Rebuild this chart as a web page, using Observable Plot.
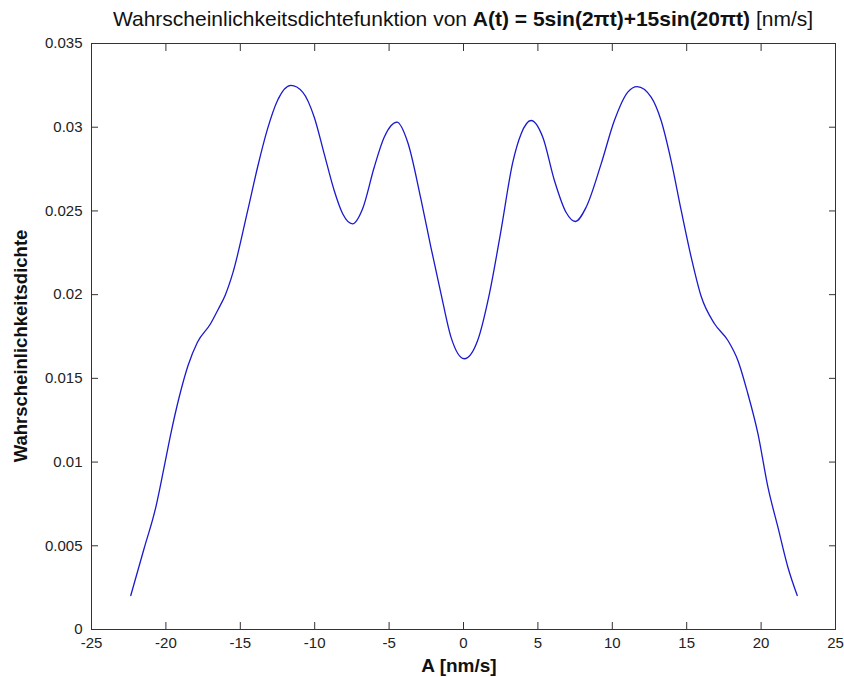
<!DOCTYPE html>
<html>
<head>
<meta charset="utf-8">
<script src="https://cdn.jsdelivr.net/npm/d3@7"></script>
<script src="https://cdn.jsdelivr.net/npm/@observablehq/plot@0.6"></script>
<style>
  html, body { margin: 0; padding: 0; background: #fff; }
  svg { display: block; }
</style>
</head>
<body>
<div id="chart"></div>
<script>
// Values
const amplitude = [-22.36, -21.47, -20.68, -20.12, -19.67, -19.11, -18.5, -17.88, -17.0, -16.5, -16.0, -15.5, -14.5, -13.84, -13.17, -12.5, -11.6, -10.81, -10.03, -9.36, -8.69, -8.12, -7.45, -6.78, -6.0, -5.33, -4.47, -3.75, -2.86, -2.19, -1.51, -0.84, 0.05, 0.95, 1.74, 2.52, 3.31, 3.87, 4.54, 5.33, 6.11, 6.89, 7.52, 8.24, 9.25, 10.14, 11.04, 11.67, 12.61, 13.28, 13.95, 14.63, 15.3, 15.97, 16.87, 17.77, 18.44, 19.11, 19.79, 20.46, 21.13, 21.8, 22.43];
const density = [0.00203, 0.00482, 0.0073, 0.0097, 0.01169, 0.01387, 0.0158, 0.01716, 0.01826, 0.0191, 0.0200, 0.02130, 0.02503, 0.02761, 0.0299, 0.0316, 0.0325, 0.0321, 0.0306, 0.02841, 0.02622, 0.02483, 0.02423, 0.02513, 0.02761, 0.0294, 0.0303, 0.0291, 0.0257, 0.02283, 0.02005, 0.01746, 0.01617, 0.01726, 0.02005, 0.02383, 0.02790, 0.0296, 0.0304, 0.0294, 0.02682, 0.02492, 0.02437, 0.02522, 0.02781, 0.0304, 0.0321, 0.03243, 0.0318, 0.0304, 0.02801, 0.02503, 0.02224, 0.0199, 0.01826, 0.01726, 0.01607, 0.01408, 0.01169, 0.0085, 0.00611, 0.00372, 0.00203];
const xTicks = [-25, -20, -15, -10, -5, 0, 5, 10, 15, 20, 25];
const xTickLabels = ["-25", "-20", "-15", "-10", "-5", "0", "5", "10", "15", "20", "25"];
const yTicks = [0, 0.005, 0.01, 0.015, 0.02, 0.025, 0.03, 0.035];
const yTickLabels = ["0", "0.005", "0.01", "0.015", "0.02", "0.025", "0.03", "0.035"];
const titleNormal = "Wahrscheinlichkeitsdichtefunktion von ";
const titleBold = "A(t) = 5sin(2πt)+15sin(20πt)";
const titleUnit = " [nm/s]";
const xLabel = "A [nm/s]";
const yLabel = "Wahrscheinlichkeitsdichte";

const data = amplitude.map((a, i) => ({a, p: density[i]}));
const font = "'Liberation Sans', Arial, Helvetica, sans-serif";
const axisColor = "#333";

const svg = Plot.plot({
  width: 844,
  height: 677,
  marginLeft: 91,
  marginRight: 9,
  marginTop: 43,
  marginBottom: 48,
  style: {fontFamily: font, fontSize: "15px", color: "#222", background: "#fff"},
  x: {domain: [-25, 25]},
  y: {domain: [0, 0.035]},
  marks: [
    Plot.frame({stroke: axisColor, strokeWidth: 1}),
    Plot.axisX(xTicks, {anchor: "bottom", tickSize: -7, tickPadding: 15, stroke: axisColor, fill: "#222", label: null, fontSize: 15,
      tickFormat: d => xTickLabels[xTicks.indexOf(d)]}),
    Plot.axisX(xTicks, {anchor: "top", tickSize: -7, tickFormat: () => "", stroke: axisColor, label: null}),
    Plot.axisY(yTicks, {anchor: "left", tickSize: -7, tickPadding: 16, stroke: axisColor, fill: "#222", label: null, fontSize: 15,
      tickFormat: d => yTickLabels[yTicks.indexOf(d)]}),
    Plot.axisY(yTicks, {anchor: "right", tickSize: -7, tickFormat: () => "", stroke: axisColor, label: null}),
    Plot.line(data, {x: "a", y: "p", curve: "monotone-x", stroke: "#1a1acc", strokeWidth: 1.3})
  ]
});

const sx = svg.scale("x"), sy = svg.scale("y");
const cx = (sx.apply(-25) + sx.apply(25)) / 2;
const cy = (sy.apply(0) + sy.apply(0.035)) / 2;
const s = d3.select(svg);
const t = s.append("text").attr("x", cx).attr("y", 26).attr("text-anchor", "middle")
  .attr("fill", "#111").style("font-size", "21px").style("font-family", font);
t.append("tspan").text(titleNormal);
t.append("tspan").attr("font-weight", "bold").text(titleBold);
t.append("tspan").text(titleUnit);
s.append("text").attr("x", cx - 4).attr("y", 672).attr("text-anchor", "middle")
  .attr("font-weight", "bold").attr("fill", "#111").style("font-size", "19px").text(xLabel);
s.append("text").attr("transform", `translate(27,${cy + 10}) rotate(-90)`).attr("text-anchor", "middle")
  .attr("font-weight", "bold").attr("fill", "#111").style("font-size", "18.5px").text(yLabel);

document.getElementById("chart").append(svg);
</script>
</body>
</html>
